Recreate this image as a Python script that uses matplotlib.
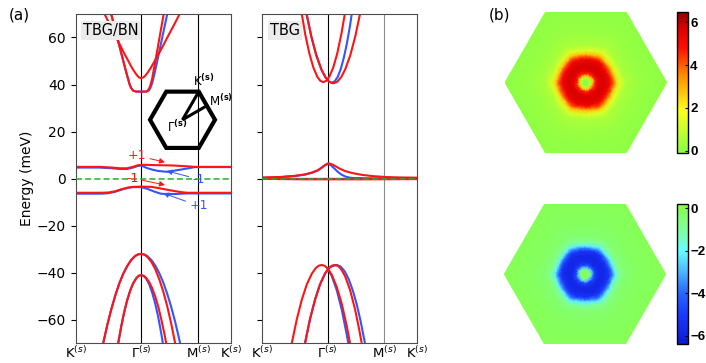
import numpy as np
import matplotlib
matplotlib.use('Agg')
import matplotlib.pyplot as plt
from matplotlib.colors import LinearSegmentedColormap
from matplotlib.tri import Triangulation
from matplotlib.patches import Polygon

# ---- path K - Gamma - M - K (Gamma at 1, M at 1+sqrt(3)/2)
k_ticks = [0.0, 1.0, 1.866, 2.366]
k_labels = ['K$^{(s)}$', r'$\Gamma^{(s)}$', 'M$^{(s)}$', 'K$^{(s)}$']
e_ticks = [-60, -40, -20, 0, 20, 40, 60]

# ---- TBG/BN bands (meV)
bn_c1_k = [0.389, 0.440, 0.512, 0.588, 0.664, 0.740, 0.802, 0.847, 0.893, 0.939, 0.969, 1.0,
           1.031, 1.061, 1.107, 1.153, 1.198, 1.260, 1.336, 1.412, 1.489, 1.585, 1.641]
bn_c1_E = [72.9, 70.0, 66.0, 61.7, 57.5, 53.3, 50.1, 47.7, 45.6, 43.8, 43.0, 42.7,
           43.0, 43.7, 45.4, 47.4, 49.6, 52.7, 56.6, 60.7, 64.7, 69.9, 72.9]
bn_c2_k = [0.481, 0.542, 0.603, 0.664, 0.725, 0.771, 0.802, 0.824, 0.847, 0.878, 0.924, 1.0,
           1.076, 1.107, 1.137, 1.168, 1.198, 1.229, 1.260, 1.290, 1.321, 1.344, 1.366]
bn_c2_E = [76.6, 70.0, 63.4, 56.8, 50.2, 45.3, 42.2, 40.0, 38.5, 37.4, 37.0, 37.0,
           37.0, 37.6, 39.3, 42.6, 47.2, 52.0, 56.8, 61.6, 66.4, 70.0, 73.6]
bn_c2b_k = [0.481, 0.542, 0.603, 0.664, 0.725, 0.771, 0.802, 0.824, 0.847, 0.878, 0.924, 1.0,
            1.076, 1.107, 1.137, 1.168, 1.198, 1.229, 1.260, 1.290, 1.321, 1.351, 1.382, 1.397, 1.427]
bn_c2b_E = [76.6, 70.0, 63.4, 56.8, 50.2, 45.3, 42.2, 40.0, 38.5, 37.4, 37.0, 37.0,
            37.0, 37.2, 38.3, 40.6, 44.0, 47.9, 51.9, 55.9, 59.9, 63.9, 67.9, 69.9, 73.9]

bn_f1_k = [0.0, 0.371, 0.554, 0.676, 0.783, 0.875, 0.951, 1.031, 1.134, 1.287, 1.47, 1.669, 1.821, 2.366]
bn_f1_E = [5.0, 5.0, 4.7, 4.4, 4.4, 5.0, 5.7, 5.9, 5.8, 5.7, 5.6, 5.3, 5.0, 5.0]
bn_f1b_k = [0.0, 0.371, 0.554, 0.676, 0.783, 0.875, 0.951, 1.0, 1.08, 1.16, 1.25, 1.35, 1.41,
            1.55, 1.7, 1.82, 2.366]
bn_f1b_E = [4.7, 4.7, 4.4, 4.1, 4.1, 4.7, 5.4, 5.6, 4.6, 3.9, 3.3, 3.0, 2.9, 3.6, 4.3, 4.9, 4.9]
bn_f2_k = [0.0, 0.4, 0.5, 0.6, 0.7, 0.8, 0.88, 1.0, 1.16, 1.3, 1.45, 1.6, 1.7, 2.366]
bn_f2_E = [-6.0, -6.0, -5.9, -5.4, -4.5, -3.8, -3.5, -3.4, -3.5, -4.2, -5.0, -5.7, -6.0, -6.0]
bn_f2b_k = [0.0, 0.4, 0.5, 0.6, 0.7, 0.8, 0.88, 1.0, 1.1, 1.2, 1.3, 1.4, 1.55, 1.7, 2.366]
bn_f2b_E = [-6.4, -6.4, -6.2, -5.6, -4.7, -3.9, -3.6, -3.6, -4.4, -5.5, -6.4, -6.6, -6.5, -6.3, -6.3]

bn_v1_k = [0.359, 0.420, 0.481, 0.542, 0.603, 0.664, 0.725, 0.786, 0.847, 0.908, 0.954, 1.0,
           1.046, 1.092, 1.153, 1.214, 1.275, 1.336, 1.397, 1.458, 1.519, 1.565]
bn_v1_E = [-78.4, -70.0, -62.4, -55.7, -49.8, -44.7, -40.5, -37.2, -34.6, -32.9, -32.2, -32.0,
           -32.3, -33.2, -35.3, -38.4, -42.7, -47.9, -54.2, -61.6, -70.0, -77.0]
bn_v1b_k = [0.359, 0.420, 0.481, 0.542, 0.603, 0.664, 0.725, 0.786, 0.847, 0.908, 0.954, 1.0,
            1.046, 1.092, 1.153, 1.214, 1.275, 1.336, 1.397, 1.458, 1.519, 1.595, 1.641]
bn_v1b_E = [-78.4, -70.0, -62.4, -55.7, -49.8, -44.7, -40.5, -37.2, -34.6, -32.9, -32.2, -32.0,
            -32.2, -32.9, -34.5, -36.9, -40.1, -44.1, -48.9, -54.5, -60.9, -70.0, -76.1]
bn_v2_k = [0.603, 0.649, 0.695, 0.740, 0.786, 0.832, 0.878, 0.924, 0.962, 1.0,
           1.038, 1.076, 1.122, 1.168, 1.214, 1.260, 1.305, 1.351, 1.382, 1.427]
bn_v2_E = [-78.1, -70.0, -62.9, -56.8, -51.7, -47.6, -44.5, -42.4, -41.3, -41.0,
           -41.3, -42.2, -44.0, -46.6, -50.1, -54.4, -59.6, -65.5, -70.0, -77.4]
bn_v2b_k = [0.603, 0.649, 0.695, 0.740, 0.786, 0.832, 0.878, 0.924, 0.962, 1.0,
            1.038, 1.076, 1.122, 1.168, 1.214, 1.260, 1.305, 1.331, 1.366]
bn_v2b_E = [-78.1, -70.0, -62.9, -56.8, -51.7, -47.6, -44.5, -42.4, -41.3, -41.0,
            -41.4, -42.5, -44.9, -48.5, -53.1, -58.8, -65.6, -70.0, -76.5]

# ---- TBG bands (meV)
tbg_cA_k = [0.580, 0.603, 0.656, 0.718, 0.779, 0.840, 0.885, 0.931, 0.977, 1.023, 1.084, 1.145, 1.206, 1.260, 1.282]
tbg_cA_E = [74.2, 70.0, 61.3, 53.3, 47.3, 43.3, 41.6, 41.0, 41.6, 43.3, 47.3, 53.3, 61.3, 70.0, 74.2]
tbg_cB_k = [0.641, 0.676, 0.748, 0.824, 0.901, 0.962, 1.023, 1.084, 1.145, 1.206, 1.267, 1.344, 1.420, 1.492, 1.527]
tbg_cB_E = [75.3, 70.0, 60.5, 52.5, 46.5, 43.2, 41.2, 40.5, 41.2, 43.2, 46.5, 52.5, 60.5, 70.0, 75.3]
tbg_cb_k = [0.641, 0.676, 0.748, 0.824, 0.901, 0.962, 1.015, 1.061, 1.107, 1.153, 1.198, 1.244,
            1.290, 1.336, 1.366, 1.397]
tbg_cb_E = [75.3, 70.0, 60.5, 52.5, 46.5, 43.2, 41.3, 40.7, 41.4, 43.3, 46.6, 51.3, 57.2, 64.4, 70.0, 76.2]

tbg_f1_k = [0.0, 0.27, 0.5, 0.652, 0.759, 0.85, 0.911, 0.965, 1.011, 1.064, 1.11, 1.186, 1.267,
            1.369, 1.522, 1.675, 1.873, 2.102, 2.366]
tbg_f1_E = [0.5, 0.7, 1.2, 1.8, 2.6, 3.6, 4.8, 5.9, 6.5, 6.1, 5.4, 4.2, 3.2, 2.4, 1.6, 1.1, 0.7, 0.5, 0.4]
tbg_f1b_k = [0.0, 0.27, 0.5, 0.652, 0.759, 0.85, 0.911, 0.965, 1.011, 1.05, 1.09, 1.13, 1.166,
             1.21, 1.267, 1.32, 1.37, 1.6, 2.366]
tbg_f1b_E = [0.3, 0.6, 1.1, 1.7, 2.5, 3.5, 4.7, 5.8, 6.4, 5.6, 4.6, 3.5, 2.6, 1.7, 0.9, 0.5, 0.3, 0.15, 0.1]
tbg_f2_k = [0.0, 0.6, 1.0, 1.6, 2.366]
tbg_f2_E = [-0.1, -0.3, -0.3, -0.3, -0.2]
tbg_f2b_k = [0.0, 0.6, 1.0, 1.6, 2.366]
tbg_f2b_E = [0.0, -0.1, -0.1, -0.1, 0.0]

tbg_vC_k = [0.420, 0.450, 0.527, 0.603, 0.679, 0.756, 0.817, 0.863, 0.908, 0.954, 1.0,
            1.061, 1.137, 1.214, 1.290, 1.340, 1.382]
tbg_vC_E = [-74.6, -70.0, -59.8, -51.5, -45.0, -40.4, -38.0, -37.0, -36.7, -37.1, -38.2,
            -40.9, -46.1, -53.3, -62.7, -70.0, -76.7]
tbg_vD_k = [0.621, 0.652, 0.728, 0.805, 0.881, 0.957, 1.018, 1.064, 1.110, 1.156, 1.202,
            1.263, 1.339, 1.415, 1.476, 1.518, 1.553]
tbg_vD_E = [-74.6, -70.0, -59.8, -51.5, -45.0, -40.4, -38.0, -37.0, -36.7, -37.1, -38.4,
            -41.4, -47.2, -55.4, -63.6, -70.0, -76.0]
tbg_vb_k = [0.621, 0.652, 0.728, 0.805, 0.881, 0.957, 1.018, 1.069, 1.136, 1.197, 1.258,
            1.319, 1.380, 1.441, 1.502, 1.568, 1.609]
tbg_vb_E = [-74.6, -70.0, -59.8, -51.5, -45.0, -40.4, -38.0, -37.2, -36.7, -37.4, -39.4,
            -42.7, -47.4, -53.3, -60.7, -70.0, -76.7]
tbg_vb2_k = [1.0, 1.061, 1.137, 1.214, 1.290, 1.313, 1.351]
tbg_vb2_E = [-38.4, -41.4, -47.4, -55.8, -66.4, -70.0, -76.0]

# ---- panel (b): value vs. distance from the centre (1 = BZ corner)
hex_r = [0.0, 0.037, 0.062, 0.087, 0.111, 0.149, 0.198, 0.248, 0.297, 0.334, 0.371, 0.421, 0.495, 0.681, 1.0]
top_vals = [0.0, 0.1, 0.8, 2.8, 4.6, 5.4, 5.8, 5.6, 5.2, 4.2, 2.7, 1.3, 0.5, 0.2, 0.05]
bot_vals = [0.0, -0.1, -0.8, -2.8, -4.6, -5.5, -5.8, -5.7, -5.2, -3.8, -2.2, -1.0, -0.4, -0.15, -0.05]

RED = '#ff1414'
BLUE = '#3355ff'
GREEN = '#22b022'

fig = plt.figure(figsize=(7.06, 3.63), dpi=100)


def band_panel(ax, blues, reds, name, mline_color):
    ax.axvline(1.0, color='k', lw=0.8, zorder=1)
    ax.axvline(1.866, color=mline_color, lw=0.8, zorder=1)
    for k, e in blues:
        ax.plot(k, e, color=BLUE, lw=1.5, zorder=2)
    for k, e in reds:
        ax.plot(k, e, color=RED, lw=1.5, zorder=2.1)
    ax.axhline(0, color=GREEN, lw=1.1, ls=(0, (4, 2)), zorder=3)
    ax.set_xlim(0, 2.366)
    ax.set_ylim(-70, 70)
    ax.set_xticks(k_ticks)
    ax.set_xticklabels(k_labels, fontsize=9.5)
    ax.set_yticks(e_ticks)
    ax.tick_params(axis='x', length=0, pad=1.5)
    ax.tick_params(axis='y', direction='out', length=3.5, width=0.8, labelsize=10)
    for s in ax.spines.values():
        s.set_color('0.3')
        s.set_linewidth(0.8)
    ax.text(0.05, 0.95, name, transform=ax.transAxes, fontsize=10.5, ha='left', va='center',
            bbox=dict(facecolor='0.92', edgecolor='none', pad=1.5), zorder=4)


ax1 = fig.add_axes([0.1072, 0.0543, 0.2195, 0.9072])
band_panel(ax1,
           [(bn_c2b_k, bn_c2b_E), (bn_f1b_k, bn_f1b_E), (bn_f2b_k, bn_f2b_E),
            (bn_v1b_k, bn_v1b_E), (bn_v2b_k, bn_v2b_E)],
           [(bn_c1_k, bn_c1_E), (bn_c2_k, bn_c2_E), (bn_f1_k, bn_f1_E), (bn_f2_k, bn_f2_E),
            (bn_v1_k, bn_v1_E), (bn_v2_k, bn_v2_E)],
           'TBG/BN', 'k')
ax1.set_ylabel('Energy (meV)', fontsize=10, labelpad=2)

# Chern number arrows
arr = dict(arrowstyle='-|>', lw=0.7, mutation_scale=8, shrinkA=1, shrinkB=0)
ax1.annotate('+1', xy=(1.363, 7.0), xytext=(0.931, 9.8), color=RED, fontsize=9, ha='center',
             va='center', arrowprops=dict(arr, color=RED))
ax1.annotate('-1', xy=(1.389, 3.3), xytext=(1.882, -0.3), color=BLUE, fontsize=9, ha='center',
             va='center', arrowprops=dict(arr, color=BLUE))
ax1.annotate('-1', xy=(1.363, -2.7), xytext=(0.864, 0.2), color=RED, fontsize=9, ha='center',
             va='center', arrowprops=dict(arr, color=RED))
ax1.annotate('+1', xy=(1.337, -6.2), xytext=(1.882, -11.6), color=BLUE, fontsize=9, ha='center',
             va='center', arrowprops=dict(arr, color=BLUE))

ax2 = fig.add_axes([0.3715, 0.0543, 0.2195, 0.9072])
band_panel(ax2,
           [(tbg_cb_k, tbg_cb_E), (tbg_f1b_k, tbg_f1b_E), (tbg_f2b_k, tbg_f2b_E),
            (tbg_vb_k, tbg_vb_E), (tbg_vb2_k, tbg_vb2_E)],
           [(tbg_cA_k, tbg_cA_E), (tbg_cB_k, tbg_cB_E), (tbg_f1_k, tbg_f1_E), (tbg_f2_k, tbg_f2_E),
            (tbg_vC_k, tbg_vC_E), (tbg_vD_k, tbg_vD_E)],
           'TBG', '0.55')
ax2.tick_params(axis='y', labelleft=False)

# inset: moire Brillouin zone
axi = fig.add_axes([140 / 706, 1 - 165 / 363, 85 / 706, 90 / 363])
axi.set_xlim(-1.308, 1.308)
axi.set_ylim(-1.391, 1.378)
axi.axis('off')
axi.patch.set_alpha(0)
ang = np.deg2rad(np.arange(6) * 60)
axi.add_patch(Polygon(np.c_[np.cos(ang), np.sin(ang)], closed=True, fill=False, lw=3,
                      ec='k', joinstyle='miter'))
axi.plot([0.5, 0, 0.75], [0.866, 0, 0.433], color='k', lw=2.2, solid_joinstyle='miter')
axi.text(0.66, 1.18, r'K$^{\mathbf{(s)}}$', fontsize=8.5, ha='center', va='center')
axi.text(0.83, 0.58, r'M$^{\mathbf{(s)}}$', fontsize=8.5, ha='left', va='center')
axi.text(-0.15, -0.22, r'$\Gamma^{\mathbf{(s)}}$', fontsize=8.5, ha='center', va='center')

# ---- panel (b)
cmap_top = LinearSegmentedColormap.from_list('top', [
    (0.0, (0.53, 1.0, 0.28)), (0.3, (1.0, 1.0, 0.1)), (0.55, (1.0, 0.55, 0.0)),
    (0.75, (1.0, 0.05, 0.0)), (0.9, (0.85, 0.0, 0.0)), (1.0, (0.55, 0.0, 0.0))])
cmap_bot = LinearSegmentedColormap.from_list('bot', [
    (0.0, (0.05, 0.1, 0.82)), (0.2, (0.1, 0.22, 1.0)), (0.364, (0.15, 0.4, 1.0)),
    (0.515, (0.3, 0.7, 1.0)), (0.667, (0.4, 1.0, 1.0)), (0.818, (0.5, 1.0, 0.6)),
    (1.0, (0.53, 1.0, 0.28))])


def hex_map(ax, vals, cmap, vmin, vmax):
    th = np.linspace(0, 2 * np.pi, 72, endpoint=False)
    hexfac = np.cos(np.pi / 6) / np.cos(np.mod(th, np.pi / 3) - np.pi / 6)
    xs, ys, zs = [0.0], [0.0], [vals[0]]
    for r, z in zip(hex_r[1:], vals[1:]):
        rad = r * hexfac ** (0.15 + 0.85 * r)
        xs.extend(rad * np.cos(th))
        ys.extend(rad * np.sin(th))
        zs.extend([z] * len(th))
    m = ax.tripcolor(Triangulation(xs, ys), zs, shading='gouraud', cmap=cmap, vmin=vmin, vmax=vmax)
    ax.set_xlim(-1, 1)
    ax.set_ylim(-0.866, 0.866)
    ax.axis('off')
    return m


def bar(m, cax, ticks):
    cb = fig.colorbar(m, cax=cax, ticks=ticks)
    cb.outline.set_linewidth(1.0)
    cb.ax.tick_params(direction='in', length=2, width=0.8, pad=1.5)
    for lbl in cb.ax.get_yticklabels():
        lbl.set_fontweight('bold')
        lbl.set_family('Liberation Sans')
        lbl.set_fontsize(9.5)


axb1 = fig.add_axes([0.7153, 0.5793, 0.229, 0.3868])
m1 = hex_map(axb1, top_vals, cmap_top, -0.1, 6.47)
bar(m1, fig.add_axes([0.9593, 0.5793, 0.0152, 0.3868]), [0, 2, 4, 6])

axb2 = fig.add_axes([0.7143, 0.0515, 0.2286, 0.3865])
m2 = hex_map(axb2, bot_vals, cmap_bot, -6.4, 0.2)
bar(m2, fig.add_axes([0.959, 0.0515, 0.0156, 0.3865]), [0, -2, -4, -6])

fig.text(19 / 706, 1 - 15 / 363, '(a)', fontsize=11, ha='center', va='center')
fig.text(499 / 706, 1 - 15 / 363, '(b)', fontsize=11, ha='center', va='center')

fig.savefig('out.png', dpi=100)
